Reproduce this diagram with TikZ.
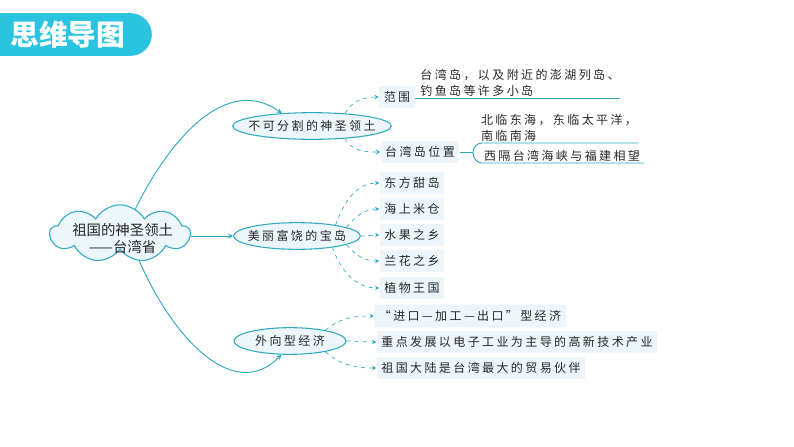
\documentclass[tikz,border=0pt]{standalone}
\usepackage{fontspec}
\setmainfont{Noto Sans CJK SC}
\newfontfamily\spaced[LetterSpace=20]{Noto Sans CJK SC}
\usetikzlibrary{shapes.geometric}
\usetikzlibrary{shapes.misc}
\usetikzlibrary{shapes.symbols}
\definecolor{pillblue}{HTML}{2BC4E0}
\definecolor{linkblue}{HTML}{2FA9C0}
\definecolor{paleblue}{HTML}{EDF6FB}
\definecolor{inkgrey}{HTML}{262626}
\newcommand{\hubtext}[1]{\makebox[0pt]{#1}}
\tikzset{
    headbox/.style = {rounded rectangle, rounded rectangle west arc=none, fill=pillblue, text=white,
        minimum width=122pt, minimum height=32pt, inner sep=0pt, font=\bfseries\fontsize{21.5}{24}\selectfont},
    rootbox/.style = {cloud, cloud puffs=9, cloud puff arc=120, draw=linkblue, fill=paleblue, line width=0.8pt,
        minimum width=105pt, minimum height=43pt, inner sep=0pt, text=inkgrey, font=\fontsize{10.8}{13}\selectfont},
    hub/.style = {ellipse, draw=linkblue, fill=paleblue, line width=0.8pt, inner sep=0pt, minimum height=20pt,
        text=inkgrey, font=\spaced\fontsize{9}{11}\selectfont},
    leaf/.style = {fill=paleblue, inner xsep=3.5pt, inner ysep=0pt, minimum height=16.5pt,
        text=inkgrey, font=\spaced\fontsize{9}{11}\selectfont},
    note/.style = {inner sep=0pt, align=left, text=inkgrey, font=\spaced\fontsize{9}{12}\selectfont},
    branch/.style = {draw=linkblue, line width=0.7pt},
    dashlink/.style = {draw=linkblue, line width=0.5pt, dashed, -stealth},
}
\begin{document}
\begin{tikzpicture}[x=0.75pt,y=-0.75pt]
\useasboundingbox (0,0) rectangle (794,447);
\node[headbox] (head) at (68,34.5) {思维导图};
\node[rootbox] (root) at (120,233.5) {\smash{\makebox[0pt]{\hspace{4pt}\raisebox{-8pt}{\begin{tabular}{@{}c@{}}祖国的神圣领土\\——台湾省\end{tabular}}}}};
\node[hub, minimum width=119pt] (territory) at (312,126) {\hubtext{不可分割的神圣领土}};
\node[hub, minimum width=95pt] (island) at (297,236) {\hubtext{美丽富饶的宝岛}};
\node[hub, minimum width=84pt] (economy) at (290,341) {\hubtext{外向型经济}};
% leaves
\foreach \Point/\Name/\Label in {(397,97)/range/范围, (420,152)/site/台湾岛位置, (412,183)/sweet/东方甜岛, (412,209)/rice/海上米仓,
    (412,235)/fruit/水果之乡, (412,261)/orchid/兰花之乡, (412,288)/plant/植物王国, (470,316)/trade/“进口—加工—出口”型经济,
    (517,342)/tech/重点发展以电子工业为主导的高新技术产业, (481,368)/partner/祖国大陆是台湾最大的贸易伙伴}
    \node[leaf] (\Name) at \Point {\Label};
\node[note] (rangetext) at (520,83) {台湾岛，以及附近的澎湖列岛、\\钓鱼岛等许多小岛};
\node[note] (sitetext) at (559,128) {北临东海，东临太平洋，\\南临南海};
\node[note] (strait) at (562,156) {西隔台湾海峡与福建相望};
% root branches
\draw[branch, -stealth] (root.58) .. controls (172,135) and (228,75) .. (territory.157);
\draw[branch, -stealth] (root.east |- island.west) -- (island.west);
\draw[branch, -stealth] (root.-55) .. controls (175,342) and (235,402) .. (economy.-122);
% dashed links
\foreach \Hub/\Angle/\Out/\Name in {territory/21/60/range, territory/-21/-60/site, island/16/70/sweet, island/10/50/rice,
    island/0/0/fruit, island/-10/-50/orchid, island/-18/-70/plant, economy/17/40/trade, economy/0/0/tech, economy/-17/-40/partner}
    \draw[dashlink] (\Hub.\Angle) to[out=\Out,in=180] (\Name.west);
% underlines and bracket
\coordinate (rangeend) at (620,98);
\coordinate (siteup) at (638,143);
\coordinate (sitedown) at (644,163);
\coordinate (sitefork) at (473,152.5);
\draw[branch] (range.east) ++(0,1) -- (rangeend);
\draw[branch] (site.east) ++(0,0.5) -- (sitefork);
\draw[branch] (siteup) -- (482,143) to[out=180,in=90] (sitefork) to[out=-90,in=180] (482,163) -- (sitedown);
\end{tikzpicture}
\end{document}
